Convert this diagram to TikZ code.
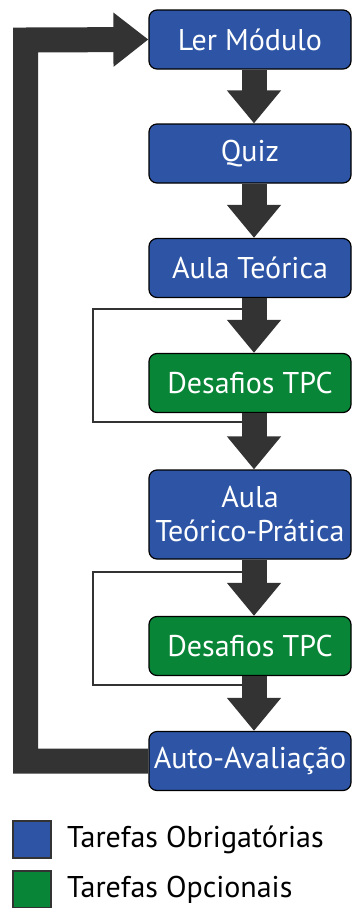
\documentclass[tikz,border=0pt]{standalone}
\usepackage{fontspec}
\setmainfont{PT Sans}
\usetikzlibrary{arrows.meta}
\definecolor{tarefablu}{RGB}{46,85,165}
\definecolor{tarefaverde}{RGB}{8,133,54}
\definecolor{setagris}{RGB}{51,51,51}

\begin{document}
\begin{tikzpicture}[x=1pt,y=-1pt,
  tarefa/.style={draw=black,line width=1.2pt,rounded corners=8pt,fill=tarefablu,text=white,
    minimum width=202pt,minimum height=59pt,inner sep=0pt,align=center,
    font=\fontsize{30}{34}\selectfont},
  opcional/.style={tarefa,fill=tarefaverde},
  seta/.style={draw=setagris,line width=25pt,-{Triangle[width=52pt,length=33pt]}},
  salto/.style={draw=setagris,line width=2pt},
  legenda/.style={draw=setagris,line width=1.2pt,minimum width=38pt,minimum height=37pt,inner sep=0pt}]
  \useasboundingbox (0,0) rectangle (351,908);
  \node[tarefa] (ler) at (250,39.5) {Ler Módulo};
  \node[tarefa] (quiz) at (250,153.5) {Quiz};
  \node[tarefa] (aula) at (250,268) {Aula Teórica};
  \node[opcional] (des1) at (250,383) {Desafios TPC};
  \node[tarefa,minimum height=89pt] (atp) at (250,514.5) {Aula\\Teórico-Prática};
  \node[opcional] (des2) at (250,646) {Desafios TPC};
  \node[tarefa] (auto) at (250,761) {Auto-Avaliação};
  \draw[salto] ([xshift=4pt]aula.south) ++(0,11) -| (93,383) |- ([xshift=4pt,yshift=-9pt]des1.south);
  \draw[salto] ([xshift=4pt]atp.south) ++(0,12) -| (93,620) |- ([xshift=4pt,yshift=-9pt]des2.south);
  \draw[seta] ([xshift=4pt]ler.south) -- ([xshift=4pt]quiz.north);
  \draw[seta] ([xshift=4pt]quiz.south) -- ([xshift=4pt]aula.north);
  \draw[seta] ([xshift=4pt]aula.south) -- ([xshift=4pt]des1.north);
  \draw[seta] ([xshift=4pt]des1.south) -- ([xshift=4pt]atp.north);
  \draw[seta] ([xshift=4pt]atp.south) -- ([xshift=4pt]des2.north);
  \draw[seta] ([xshift=4pt]des2.south) -- ([xshift=4pt]auto.north);
  \draw[seta,-{Triangle[width=52pt,length=35pt]}] (auto.west) -- (25.5,761) -- (25.5,40) -- (ler.west);
  \node[legenda,fill=tarefablu] (legobr) at (32,839.5) {};
  \node[legenda,fill=tarefaverde] (legopc) at (32,889.5) {};
  \node[anchor=west,font=\fontsize{30}{32}\selectfont] (txtobr) at ([xshift=12pt]legobr.east) {Tarefas Obrigatórias};
  \node[anchor=west,font=\fontsize{30}{32}\selectfont] (txtopc) at ([xshift=12pt]legopc.east) {Tarefas Opcionais};
\end{tikzpicture}
\end{document}
